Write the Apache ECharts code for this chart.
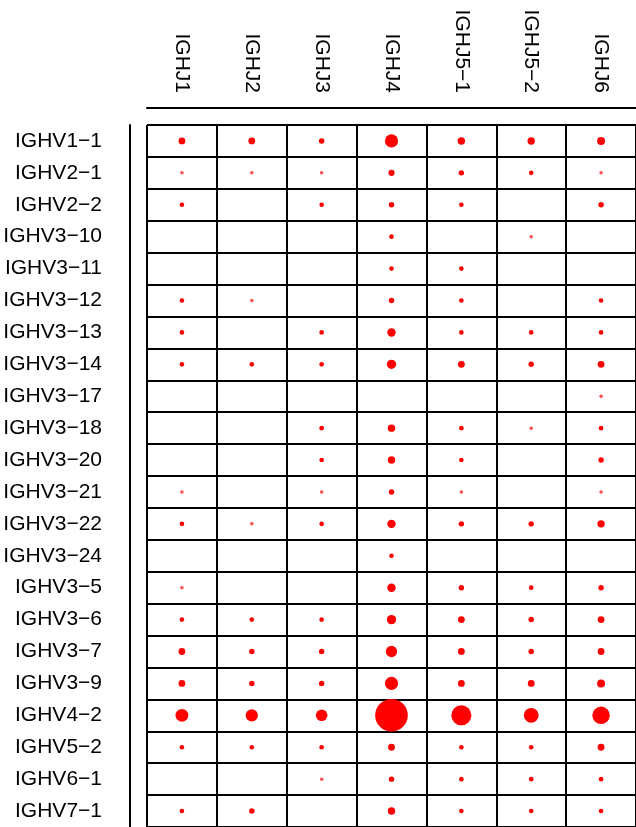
<!DOCTYPE html>
<html>
<head>
<meta charset="utf-8">
<script src="https://cdn.jsdelivr.net/npm/echarts@6/dist/echarts.min.js"></script>
<style>
html,body{margin:0;padding:0;background:#fff;}
#chart{width:636px;height:827px;}
</style>
</head>
<body>
<div id="chart"></div>
<script>
const cols = ['IGHJ1','IGHJ2','IGHJ3','IGHJ4','IGHJ5−1','IGHJ5−2','IGHJ6'];
const rows = ['IGHV1−1','IGHV2−1','IGHV2−2','IGHV3−10','IGHV3−11','IGHV3−12','IGHV3−13','IGHV3−14','IGHV3−17','IGHV3−18','IGHV3−20','IGHV3−21','IGHV3−22','IGHV3−24','IGHV3−5','IGHV3−6','IGHV3−7','IGHV3−9','IGHV4−2','IGHV5−2','IGHV6−1','IGHV7−1'];

// counts per J gene (one value per V gene row, top to bottom)
const IGHJ1  = [5,1,2,0,0,2,2,2,0,0,0,1,2,0,1,2,5,5,20,2,0,2];
const IGHJ2  = [5,1,0,0,0,1,0,2,0,0,0,0,1,0,0,2,3,3,18,2,0,3];
const IGHJ3  = [3,1,2,0,0,0,2,2,0,2,2,1,2,0,0,2,3,3,16,2,1,0];
const IGHJ4  = [21,4,3,2,2,3,8,10,0,6,6,3,8,2,8,10,15,21,139,5,3,6];
const IGHJ5_1 = [6,3,2,0,2,2,2,5,0,2,2,1,3,0,3,5,5,5,51,2,2,2];
const IGHJ5_2 = [6,2,0,1,0,0,2,3,0,1,0,0,3,0,2,3,3,5,27,2,2,2];
const IGHJ6  = [7,1,3,0,0,2,2,5,1,2,3,1,6,0,3,5,5,7,38,5,2,2];

const columns = [IGHJ1, IGHJ2, IGHJ3, IGHJ4, IGHJ5_1, IGHJ5_2, IGHJ6];
const points = [];
columns.forEach((arr, ci) => {
  arr.forEach((v, ri) => {
    if (v > 0) points.push({value: [ci, ri, v], itemStyle: {opacity: v === 1 ? 0.7 : 1}});
  });
});

const font = "'Liberation Sans', Arial, Helvetica, sans-serif";
const chart = echarts.init(document.getElementById('chart'), null, {renderer: 'canvas'});
chart.setOption({
  animation: false,
  backgroundColor: '#ffffff',
  grid: {left: 147, top: 125, width: 497, height: 704, containLabel: false},
  xAxis: {
    type: 'category', data: cols, position: 'top', offset: 17,
    axisLine: {show: true, lineStyle: {color: '#000', width: 2}},
    axisTick: {show: false},
    axisLabel: {rotate: 90, margin: 15, interval: 0, fontSize: 21, color: '#000', fontFamily: font},
    splitLine: {show: true, interval: 0, lineStyle: {color: '#000', width: 2}}
  },
  yAxis: {
    type: 'category', data: rows, inverse: true, offset: 17,
    axisLine: {show: true, lineStyle: {color: '#000', width: 2}},
    axisTick: {show: false},
    axisLabel: {margin: 28, interval: 0, fontSize: 21, color: '#000', fontFamily: font},
    splitLine: {show: true, interval: 0, lineStyle: {color: '#000', width: 2}}
  },
  series: [{
    type: 'scatter',
    data: points,
    symbol: 'circle',
    symbolSize: d => 0.8 + 2.7 * Math.sqrt(d[2]),
    itemStyle: {color: '#ff0000'}
  }]
});
</script>
</body>
</html>
